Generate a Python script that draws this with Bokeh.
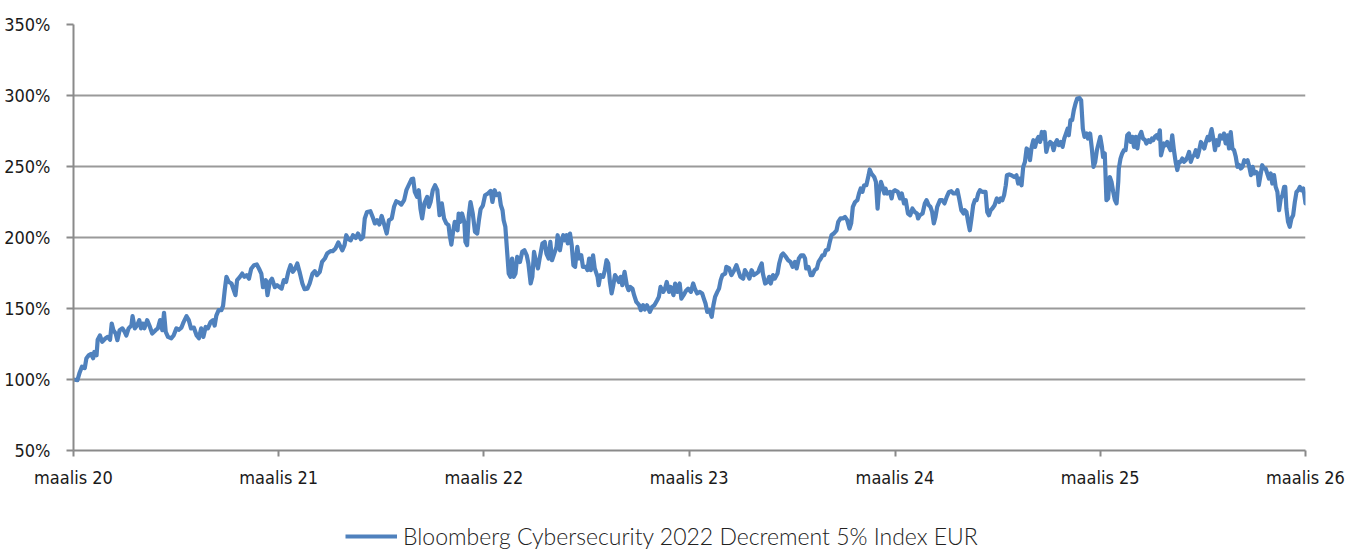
from bokeh.plotting import figure
from bokeh.layouts import column
from bokeh.models import (FixedTicker, PrintfTickFormatter, CustomJSTickFormatter,
                          Range1d, Legend, LegendItem)
from bokeh.embed import file_html
from bokeh.resources import INLINE
import pandas as pd

START = "2020-03-01"
END = "2026-03-01"
series_name = "Bloomberg Cybersecurity 2022 Decrement 5% Index EUR"

day_offset = [
    0, 7, 11, 15, 20, 23, 27, 31, 35, 37,
    41, 43, 47, 51, 57, 61, 65, 68, 71, 75,
    78, 82, 87, 91, 94, 98, 103, 105, 109, 113,
    117, 120, 123, 126, 131, 135, 140, 146, 150, 154,
    158, 161, 164, 168, 174, 178, 183, 187, 192, 196,
    201, 205, 209, 214, 219, 223, 227, 231, 235, 239,
    244, 248, 251, 254, 258, 263, 266, 269, 272, 276,
    281, 284, 288, 291, 296, 300, 304, 308, 312, 316,
    321, 326, 330, 334, 337, 342, 345, 349, 353, 358,
    362,
    370, 374, 378, 382, 386, 390, 394, 398, 402, 407,
    411, 416, 420, 425, 429, 433, 438, 442, 447, 451,
    457, 461, 466, 471, 475, 478, 482, 485, 489, 493,
    497, 502, 506, 511, 515, 518, 522, 528, 532, 536,
    540, 544, 548, 552, 557, 561, 566, 570, 574, 579,
    583, 588, 592, 596, 601, 604, 607, 611, 614, 617,
    620, 624, 629, 632, 635, 639, 643, 647, 651, 655,
    659, 663, 667, 669, 672, 675, 678, 683, 685, 688,
    691, 695, 697, 700, 703, 706, 710, 714, 718, 721,
    724, 728, 732,
    737, 742, 745, 749, 752, 757, 760, 763, 765, 768,
    771, 774, 777, 780, 783, 786, 789, 794, 798, 802,
    806, 809, 813, 816, 819, 822, 826, 829, 834, 838,
    841, 845, 848, 851, 856, 859, 861, 865, 868, 871,
    873, 877, 879, 883, 886, 889, 892, 896, 899, 903,
    906, 911, 914, 917, 920, 924, 927, 932, 934, 937,
    942, 945, 948, 951, 954, 957, 960, 963, 967, 970,
    973, 976, 980, 984, 987, 990, 994, 997, 1001, 1006,
    1009, 1013, 1016, 1020, 1025, 1029, 1033, 1038, 1041, 1044,
    1049, 1052, 1055, 1059, 1062, 1067, 1070, 1074, 1078, 1081,
    1085,
    1089, 1093, 1098, 1102, 1105, 1109, 1114, 1118, 1121, 1124,
    1127, 1131, 1135, 1138, 1141, 1145, 1148, 1151, 1154, 1159,
    1161, 1166, 1170, 1175, 1179, 1182, 1186, 1191, 1194, 1198,
    1202, 1206, 1210, 1214, 1218, 1220, 1224, 1226, 1230, 1234,
    1237, 1240, 1244, 1247, 1252, 1255, 1259, 1262, 1267, 1271,
    1275, 1279, 1283, 1286, 1290, 1294, 1298, 1301, 1303, 1307,
    1311, 1314, 1318, 1322, 1325, 1329, 1332, 1335, 1338, 1342,
    1345, 1348, 1352, 1357, 1360, 1364, 1368, 1372, 1376, 1380,
    1383, 1386, 1390, 1394, 1397, 1400, 1403, 1406, 1410, 1414,
    1416, 1419, 1424, 1427, 1430, 1432, 1436, 1439, 1442, 1444,
    1447, 1452, 1455, 1457, 1461,
    1466, 1470, 1473, 1477, 1480, 1484, 1488, 1492, 1496, 1500,
    1502, 1505, 1510, 1514, 1517, 1521, 1524, 1527, 1530, 1533,
    1536, 1541, 1545, 1549, 1553, 1557, 1561, 1565, 1569, 1572,
    1575, 1579, 1583, 1585, 1588, 1591, 1594, 1597, 1600, 1603,
    1606, 1609, 1612, 1616, 1622, 1625, 1628, 1631, 1634, 1638,
    1642, 1646, 1649, 1652, 1655, 1658, 1660, 1664, 1668, 1673,
    1677, 1680, 1683, 1686, 1689, 1692, 1695, 1698, 1701, 1704,
    1707, 1710, 1713, 1716, 1719, 1722, 1725, 1727, 1730, 1733,
    1737, 1740, 1743, 1746, 1749, 1752, 1756, 1759, 1762, 1765,
    1768, 1770, 1773, 1776, 1779, 1782, 1785, 1789, 1792, 1795,
    1798, 1802, 1804, 1808, 1811, 1814, 1817, 1820, 1823, 1826,
    1829, 1831, 1834, 1837, 1840, 1843, 1846, 1849, 1852, 1855,
    1858, 1859, 1862, 1865, 1868, 1871, 1874, 1877, 1880, 1883,
    1886, 1889, 1892, 1895, 1899, 1902, 1906, 1908, 1912, 1915,
    1918, 1920, 1923, 1926, 1929, 1932, 1934, 1937, 1939, 1942,
    1945, 1948, 1951, 1954, 1957, 1960, 1963, 1966, 1969, 1972,
    1975, 1978, 1981, 1984, 1987, 1990, 1993, 1996, 1999, 2002,
    2005, 2008, 2011, 2014, 2017, 2020, 2022, 2024, 2027, 2030,
    2033, 2036, 2039, 2043, 2046, 2049, 2052, 2055, 2058, 2061,
    2064, 2067, 2070, 2073, 2076, 2079, 2082, 2085, 2088, 2091,
    2094, 2097, 2100, 2103, 2106, 2108, 2111, 2114, 2117, 2120,
    2123, 2126, 2129, 2132, 2135, 2138, 2141, 2144, 2147, 2150,
    2153, 2155, 2157, 2160, 2163, 2166, 2169, 2172, 2175, 2178,
    2181, 2184, 2187, 2189, 2191,
]

index_pct = [
    100, 99.5, 105, 109, 108, 115, 117, 118, 115, 119.4,
    117, 128, 131, 126.5, 129, 130, 128, 139.4, 134.7, 132.4,
    127.7, 134.7, 136, 133.5, 131, 136, 138, 144.6, 136, 138,
    141.8, 136, 139.4, 136, 141.8, 138, 132.4, 134.7, 136, 141.8,
    134.7, 147, 133.5, 130, 129, 131, 136, 135, 136.6, 140.6,
    144.6, 141.8, 136, 136.6, 131, 129, 136, 130, 137, 136,
    140.6, 141.8, 138, 145, 148.8, 148.8, 152, 163, 172.3, 168.7,
    167.6, 164, 159.4, 170, 172.3, 174.6, 172.3, 173.5, 171, 178,
    180.5, 181, 178, 174.6, 165, 170, 159.4, 168.7, 171, 165,
    166.4,
    164, 170, 168.7, 175.8, 180.5, 175.8, 178, 181.7, 175.8, 167.6,
    163.6, 164, 167.6, 174.6, 176.3, 173.5, 175.8, 182.8, 185.2, 188.7,
    190.4, 190.4, 192.3, 196.5, 193.4, 191, 194.6, 201.6, 198.8, 198,
    201.6, 199.7, 202.8, 198.8, 200.4, 213.4, 218, 218.5, 214.5, 209.9,
    212.2, 209.2, 215.2, 209.9, 202.8, 212.2, 213.4, 221.6, 225.5, 224.6,
    223.2, 226.3, 233.3, 236.8, 241, 241.5, 232.1, 228.6, 233.3, 220.4,
    213.4, 224, 228.6, 221.6, 225, 233.3, 236.8, 233.3, 215.7, 224,
    213.4, 209.9, 208.7, 201.6, 195, 204, 211, 205.1, 216.9, 211,
    216.9, 211, 196.9, 194.6, 215.7, 225, 216.9, 204, 202.8, 212.2,
    220, 222.5, 229.8,
    231, 232.8, 225, 233.3, 229.8, 231, 222.7, 219.2, 212.2, 207.5,
    191, 174.6, 172.3, 185.2, 172.3, 174.6, 186.3, 182.8, 189.9, 191,
    187.5, 181.7, 167.6, 172.3, 189.9, 184, 178.2, 185.2, 195.8, 196.9,
    188.7, 185.2, 196.9, 184, 189.9, 193.4, 201.6, 191, 198, 201.6,
    198, 201.6, 195.8, 202.8, 194.6, 180.5, 179.3, 193.4, 185.2, 187.5,
    179.3, 179.3, 177, 185.2, 177, 187.5, 178.2, 172.3, 166.4, 173.5,
    172.3, 177, 184, 181.7, 168.7, 160.6, 166.4, 173.5, 171, 168.7,
    172.3, 166.4, 175.8, 166.4, 162.9, 165.2, 164, 159.4, 154.6, 152.3,
    148.8, 152.3, 149.3, 152.3, 147.6, 151.1, 152.3, 155.8, 158.2, 165.2,
    161.7, 164, 168.7, 161.7, 165.2, 159.4, 167.6, 161.7, 167.6, 157,
    159.4,
    162.3, 164, 161.7, 167.6, 164, 160.6, 161.7, 160.6, 157, 153.5,
    147.6, 148.8, 144.1, 152.3, 158.2, 161.7, 164, 170, 173.5, 174.6,
    179.3, 178.2, 173.5, 177, 180.5, 177, 172.3, 171, 177, 174.6,
    171, 177, 173.5, 174.6, 175.8, 178.2, 181.7, 174.6, 167.6, 168.7,
    172.3, 167.6, 173.5, 171, 174.6, 181.7, 187.5, 188.7, 186.3, 184,
    182.8, 179.3, 182.8, 178.2, 185.2, 187.5, 187.5, 185.2, 178.2, 179.3,
    173.5, 173.5, 177, 178.2, 182.8, 185.2, 187.5, 187.5, 191, 191.5,
    196.9, 201.6, 202.8, 205.1, 211, 213.4, 213.4, 214.5, 212.2, 206.3,
    209.9, 221.6, 225, 226.3, 231, 234.5, 232.1, 236.8, 236.8, 243.8,
    247.9, 245.1, 242.6, 239.2, 220.4, 231, 239.2, 235.6, 231, 234.5,
    231, 232.1, 227.5, 232.1, 233.3,
    232.1, 227.5, 231, 224, 226.3, 216.9, 215.7, 220.4, 218, 216.9,
    213.4, 215.7, 216.9, 224, 226.3, 222.7, 221.6, 218, 209.9, 214.5,
    221.6, 226.3, 226.3, 224, 228.6, 232.1, 232.6, 231, 231, 233.3,
    227.5, 219.2, 216.9, 219.2, 218, 211, 205.1, 213.4, 222.7, 226.3,
    226.3, 231, 233.3, 232.1, 232.1, 218, 215.7, 219.2, 220.4, 222.7,
    227.5, 225, 227.5, 226.3, 229.8, 236.8, 243.8, 244.4, 243.8, 242.6,
    243.8, 238, 241.5, 236.8, 249.7, 253.2, 262.7, 261.5, 254.4, 263.8,
    268.5, 263.8, 268.5, 270.9, 267.3, 274.3, 269.7, 274.3, 260.3, 265,
    267.3, 266.2, 261.5, 266.2, 268.5, 265, 267.3, 263.8, 269.7, 273.2,
    276.7, 272, 282.6, 282.6, 289.7, 294.4, 297.9, 298.3, 296.7, 276.7,
    270.9, 273.2, 269.7, 273.2, 262.7, 249.7, 253.2, 261.5, 266.2, 270.9,
    263.8, 256.7, 259.2, 226.3, 227.5, 242.6, 239.2, 232.1, 226.3, 224,
    239.2, 248.6, 255.6, 259.2, 261.5, 261.5, 272, 273.2, 267.3, 270.9,
    263.8, 270.9, 262.7, 270.9, 274.3, 269.7, 268.5, 266.2, 268.5, 267.3,
    269.7, 268.5, 270.9, 272, 269.7, 275.5, 257.9, 262.7, 266.2, 265,
    267.3, 263.8, 261.5, 272, 261.5, 253.3, 247.5, 253.3, 253.3, 255.6,
    253.3, 254.4, 256.8, 260.3, 253.3, 256.8, 258, 261.5, 256.8, 261.5,
    267.3, 265, 262.7, 267.3, 270.9, 268.5, 273.2, 276.3, 269.7, 261.5,
    268.5, 265, 272, 269.7, 273.2, 266.2, 272, 262.7, 274.3, 262.7,
    261.5, 256.8, 249.8, 251, 248.6, 249.8, 254.4, 253.3, 254.4, 249.8,
    243.9, 249.8, 245.1, 246.2, 245.1, 236.8, 243.9, 250.9, 248.6, 248.6,
    245.1, 241.5, 245.1, 238, 243.9, 235.6, 232.1, 219.2, 227.5, 229.8,
    235.6, 235.6, 220.4, 211, 207.5, 213.4, 215.7, 225, 232.1, 233.3,
    235.6, 233.3, 234.5, 229.8, 224,
]

y_ticks = [50, 100, 150, 200, 250, 300, 350]
x_tick_dates = ["2020-03-01", "2021-03-01", "2022-03-01", "2023-03-01",
                "2024-03-01", "2025-03-01", "2026-03-01"]
x_tick_labels = ["maalis 20", "maalis 21", "maalis 22", "maalis 23",
                 "maalis 24", "maalis 25", "maalis 26"]

n = min(len(day_offset), len(index_pct))
dates = pd.Timestamp(START) + pd.to_timedelta(day_offset[:n], unit="D")
vals = index_pct[:n]

AXIS_GRAY = "#8a8a8a"
LINE_COLOR = "#4F81BD"
LINE_WIDTH = 4.2
LABEL_FONT = "'DejaVu Sans Condensed', 'DejaVu Sans', sans-serif"

# ---- main chart ----
p = figure(width=1349, height=505, x_axis_type="datetime",
           output_backend="svg", toolbar_location=None,
           x_range=Range1d(pd.Timestamp(START), pd.Timestamp(END)),
           y_range=Range1d(50, 350),
           min_border_left=73, min_border_right=44,
           min_border_top=24, min_border_bottom=55)
p.outline_line_color = None
p.background_fill_color = "white"
p.border_fill_color = "white"

r = p.line(dates, vals, line_width=LINE_WIDTH, line_color=LINE_COLOR,
           line_join="round", line_cap="round")

tick_ms = [float(pd.Timestamp(d).value // 10**6) for d in x_tick_dates]
p.xaxis.ticker = FixedTicker(ticks=tick_ms)
p.xaxis.formatter = CustomJSTickFormatter(
    args=dict(tick_vals=tick_ms, tick_texts=x_tick_labels),
    code="""
      for (let i = 0; i < tick_vals.length; i++) {
        if (Math.abs(tick_vals[i] - tick) < 1) { return tick_texts[i]; }
      }
      return "";
    """)
p.yaxis.ticker = FixedTicker(ticks=y_ticks)
p.yaxis.formatter = PrintfTickFormatter(format="%d%%")

for ax in (p.xaxis[0], p.yaxis[0]):
    ax.axis_line_color = AXIS_GRAY
    ax.axis_line_width = 2
    ax.major_tick_line_color = AXIS_GRAY
    ax.major_tick_line_width = 2
    ax.major_tick_in = 0
    ax.minor_tick_line_color = None
    ax.major_label_text_font = LABEL_FONT
    ax.major_label_text_font_size = "18px"
    ax.major_label_text_color = "#1a1a1a"

p.xaxis.major_tick_out = 6
p.xaxis.major_label_standoff = 10
p.yaxis.major_tick_out = 7
p.yaxis.major_label_standoff = 16

p.xgrid.grid_line_color = None
p.ygrid.grid_line_color = "#9a9a9a"
p.ygrid.grid_line_width = 2

# ---- legend strip underneath (its frame is aligned with the chart's frame) ----
leg = figure(width=1349, height=44, output_backend="svg", toolbar_location=None,
             x_axis_location=None, y_axis_location=None,
             x_range=Range1d(0, 1), y_range=Range1d(0, 1),
             min_border_left=0, min_border_right=0,
             min_border_top=0, min_border_bottom=0)
leg.outline_line_color = None
leg.grid.grid_line_color = None
leg.background_fill_color = "white"
leg.border_fill_color = "white"
# legend swatch renderer: the series' first point, which lies outside this strip's ranges
swatch = leg.line(x=[dates[0]], y=[vals[0]],
                  line_width=LINE_WIDTH, line_color=LINE_COLOR)

legend = Legend(items=[LegendItem(label=series_name, renderers=[swatch])],
                location=(272, -1), orientation="horizontal",
                glyph_width=52, glyph_height=20, label_standoff=6,
                padding=0, margin=0, border_line_color=None,
                background_fill_alpha=0,
                label_text_font="'Lato Light', Lato, sans-serif",
                label_text_font_size="23px",
                label_text_color="#222222")
leg.add_layout(legend)

layout = column(p, leg, spacing=0)

open("out.html", "w").write(file_html(layout, INLINE))
